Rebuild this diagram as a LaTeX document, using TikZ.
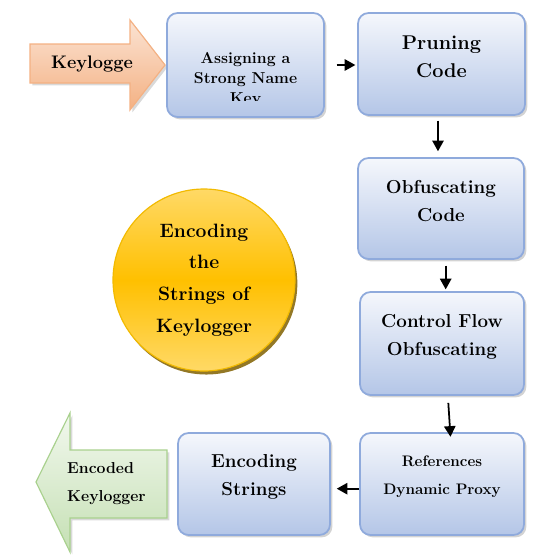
\documentclass[tikz,border=0pt]{standalone}
\usepackage{xcolor}
\usepackage{tikz}
\usetikzlibrary{arrows.meta,shadows}
\definecolor{bxtop}{HTML}{F5F7FC}
\definecolor{bxbot}{HTML}{B4C6E7}
\definecolor{bxline}{HTML}{8FAADC}
\definecolor{gdtop}{HTML}{FFD966}
\definecolor{gdmid}{HTML}{FFC000}
\definecolor{gdline}{HTML}{F2BA00}
\definecolor{gdshadow}{HTML}{806000}
\definecolor{ortop}{HTML}{FBE3D3}
\definecolor{orbot}{HTML}{F4B183}
\definecolor{orline}{HTML}{F4B183}
\definecolor{grtop}{HTML}{F2F8EE}
\definecolor{grbot}{HTML}{C5E0B4}
\definecolor{grline}{HTML}{A9D18E}

\begin{document}
\begin{tikzpicture}[x=0.03cm,y=-0.03cm,every node/.style={font=\bfseries},
  box/.style={draw=bxline,line width=1.5pt,rounded corners=9pt,inner sep=0pt,
    top color=bxtop,bottom color=bxbot,
    drop shadow={shadow xshift=2pt,shadow yshift=-2pt,opacity=0.35}},
  boxtext/.style={align=center,font=\fontsize{16}{24}\selectfont\bfseries},
  flow/.style={-{Triangle[length=3.2mm,width=3.4mm]},line width=1.5pt}]
  \useasboundingbox (0,0) rectangle (550,558);
  % side arrows
  \draw[draw=orline,line width=1pt,top color=ortop,bottom color=orbot,
    drop shadow={shadow xshift=2pt,shadow yshift=-2pt,opacity=0.3}]
    (30,44) -- (130,44) -- (130,20) -- (165,65) -- (130,110) -- (130,83) -- (30,83) -- cycle;
  \node[font=\fontsize{15.5}{20}\selectfont\bfseries] (inlbl) at (92,64) {Keylogge};
  \draw[draw=grline,line width=1pt,top color=grtop,bottom color=grbot,
    drop shadow={shadow xshift=2pt,shadow yshift=-2pt,opacity=0.3}]
    (167,450) -- (70,450) -- (70,413) -- (36,482) -- (70,552) -- (70,518) -- (167,518) -- cycle;
  \node[font=\fontsize{13.5}{24}\selectfont\bfseries,align=left,anchor=west,inner sep=0pt]
    (outlbl) at (67,484) {Encoded\\Keylogger};
  % steps
  \node[box,minimum width=4.71cm,minimum height=3.12cm] (assign) at (245.5,65) {};
  \node[box,minimum width=5.01cm,minimum height=3.06cm] (prune) at (441.5,64) {};
  \node[box,minimum width=4.98cm,minimum height=3.03cm] (obf) at (441,208.5) {};
  \node[box,minimum width=4.92cm,minimum height=3.09cm] (ctrl) at (442,343.5) {};
  \node[box,minimum width=4.92cm,minimum height=3.06cm] (refs) at (442,484) {};
  \node[box,minimum width=4.56cm,minimum height=3.06cm] (encs) at (254,484) {};
  \begin{scope}
    \clip (167,13) rectangle (324,100);
    \node[align=center,font=\fontsize{13.5}{17}\selectfont\bfseries] (assignt)
      at ([yshift=-12.5pt]assign.center) {Assigning a\\Strong Name\\Key};
  \end{scope}
  \node[boxtext,font=\fontsize{17}{24}\selectfont\bfseries] (prunet) at ([yshift=6pt]prune.center) {Pruning\\Code};
  \node[boxtext] (obft) at ([yshift=6pt]obf.center) {Obfuscating\\Code};
  \node[boxtext] (ctrlt) at ([yshift=6pt]ctrl.center) {Control Flow\\Obfuscating};
  \node[boxtext,font=\fontsize{13}{24}\selectfont\bfseries] (refst) at ([yshift=6pt]refs.center) {References\\Dynamic Proxy};
  \node[boxtext] (encst) at ([yshift=6pt]encs.center) {Encoding\\Strings};
  % centre disc
  \node[circle,minimum size=5.46cm,draw=gdline,line width=1pt,
    top color=gdtop,bottom color=gdtop,middle color=gdmid,
    drop shadow={shadow xshift=2pt,shadow yshift=-3pt,fill=gdshadow,opacity=0.85},
    align=center,font=\fontsize{16.5}{27}\selectfont\bfseries] (goal) at (204,280)
    {Encoding\\the\\Strings of\\Keylogger};
  % connectors
  \draw[flow,shorten <=10pt,shorten >=1.5pt] (assign.east) -- (assign.east -| prune.west);
  \draw[flow,shorten <=4pt,shorten >=5pt] ([xshift=-3pt]prune.south) -- ([xshift=-3pt]prune.south |- obf.north);
  \draw[flow,shorten <=5pt,shorten >=1.5pt] ([xshift=4pt]obf.south) -- ([xshift=4pt]obf.south |- ctrl.north);
  \draw[flow,shorten <=6pt,shorten >=-4pt] ([xshift=5pt]ctrl.south) -- ([xshift=7pt]refs.north);
  \draw[flow,shorten >=5pt] ([yshift=-4pt]refs.west) -- ([yshift=-4pt]refs.west -| encs.east);
\end{tikzpicture}
\end{document}
